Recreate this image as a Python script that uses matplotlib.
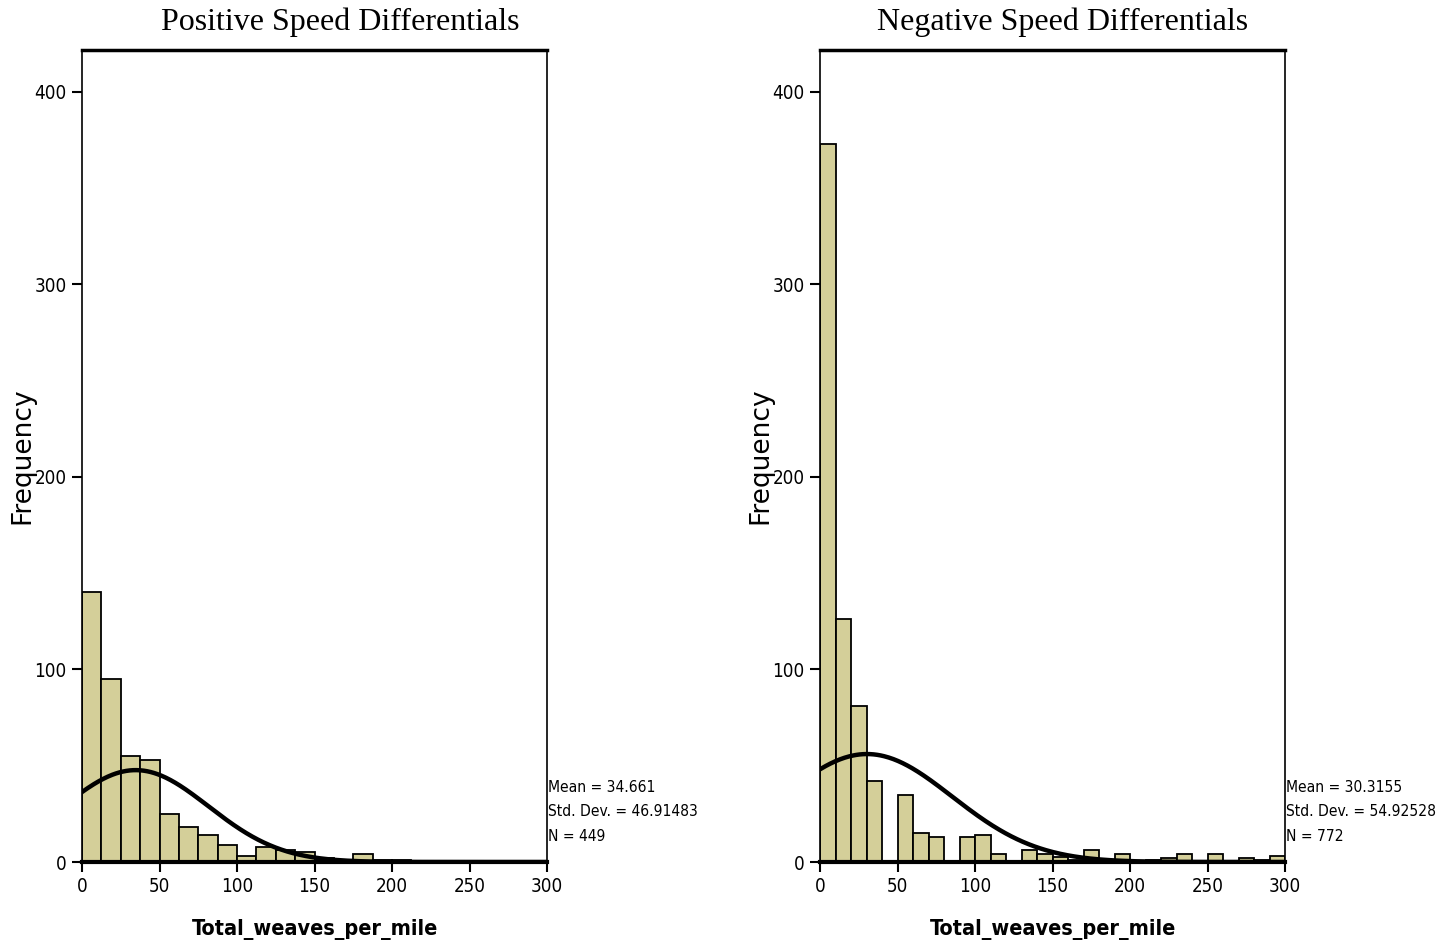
import numpy as np
import matplotlib
matplotlib.use('Agg')
import matplotlib.pyplot as plt
from matplotlib import font_manager

# histogram counts
pos_width = 12.5
pos_counts = [140, 95, 55, 53, 25, 18, 14, 9, 3, 8, 6, 5, 2, 1, 4, 1, 1,
              0, 0, 0, 0, 0, 0, 0]
pos_stats = (34.661, 46.91483, 449)

neg_width = 10
neg_counts = [373, 126, 81, 42, 0, 35, 15, 13, 0, 13, 14, 4, 0, 6, 4,
              2.5, 1, 6, 1, 4, 0, 1, 2, 4, 0, 4, 0, 2, 1, 3]
neg_stats = (30.3155, 54.92528, 772)

titles = ['Positive Speed Differentials', 'Negative Speed Differentials']
x_ticks = [0, 50, 100, 150, 200, 250, 300]
y_ticks = [0, 100, 200, 300, 400]

BAR = '#d4cf99'
condensed = any('Condensed' in f.fname for f in font_manager.fontManager.ttflist
                if f.name == 'DejaVu Sans')
NARROW = dict(family='DejaVu Sans', stretch='condensed') if condensed else dict(family='DejaVu Sans')
SHRINK = 1.0 if condensed else 0.85

fig = plt.figure(figsize=(14.43, 9.48), dpi=100)


def draw_panel(left_px, counts, width, stats, title, title_x):
    ax = fig.add_axes([left_px / 1443, 86 / 948, 465 / 1443, 812 / 948])
    edges = np.arange(len(counts)) * width
    ax.bar(edges, counts, width=width, align='edge', color=BAR,
           edgecolor='black', linewidth=1.3, zorder=2)
    # normal curve from the stated mean / std. dev. / N
    mean, sd, n = stats
    xs = np.linspace(0, 300, 400)
    ys = n * width * np.exp(-0.5 * ((xs - mean) / sd) ** 2) / (sd * np.sqrt(2 * np.pi))
    ax.plot(xs, ys, color='black', linewidth=3.2, zorder=3)
    ax.set_xlim(0, 300)
    ax.set_ylim(0, 421.8)
    ax.set_xticks(x_ticks)
    ax.set_yticks(y_ticks)
    ax.set_xticklabels([str(t) for t in x_ticks], fontsize=13.5 * SHRINK, **NARROW)
    ax.set_yticklabels([str(t) for t in y_ticks], fontsize=13.5 * SHRINK, **NARROW)
    ax.tick_params(direction='out', length=7, width=1.5, pad=4)
    ax.spines['top'].set_linewidth(2.5)
    ax.spines['bottom'].set_linewidth(3)
    ax.spines['left'].set_linewidth(1.2)
    ax.spines['right'].set_linewidth(1.2)
    ax.set_xlabel('Total_weaves_per_mile', fontsize=15.5 * SHRINK,
                  fontweight='bold', labelpad=16, **NARROW)
    ax.set_ylabel('Frequency', fontsize=19)
    ax.yaxis.set_label_coords(-0.101, 0.5)
    txt = 'Mean = {}\nStd. Dev. = {}\nN = {}'.format(mean, sd, n)
    ax.text(1.003, 0.101, txt, transform=ax.transAxes,
            fontsize=11.2 * SHRINK, va='top', ha='left', linespacing=1.78, **NARROW)
    fig.text(title_x / 1443, 1 - 22 / 948, title, family='Liberation Serif',
             fontsize=23, ha='center', va='center')
    return ax


draw_panel(82, pos_counts, pos_width, pos_stats, titles[0], 340)
draw_panel(820, neg_counts, neg_width, neg_stats, titles[1], 1063)

fig.savefig('out.png', dpi=100)
